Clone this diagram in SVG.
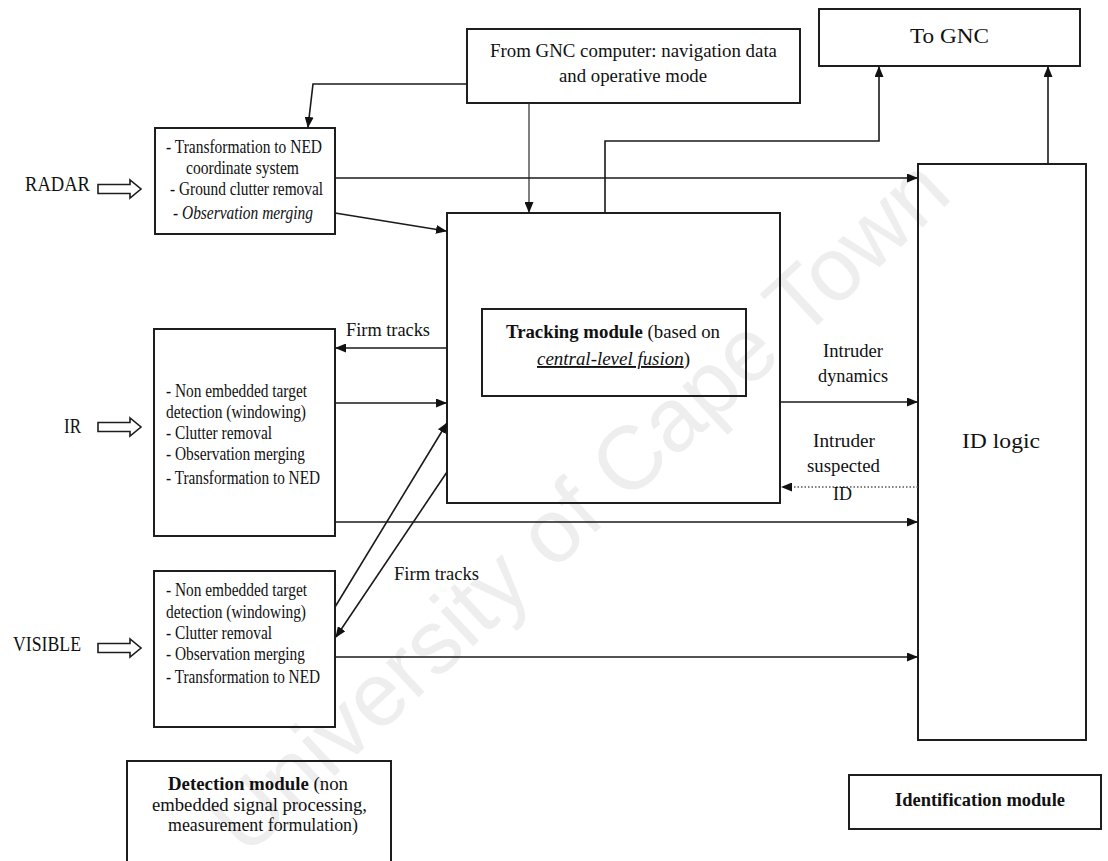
<svg xmlns="http://www.w3.org/2000/svg" width="1108" height="861" viewBox="0 0 1108 861">
<style>
.bg{fill:#fff}
.box{fill:none;stroke:#1e1e1e;stroke-width:2}
.ln{fill:none;stroke:#1a1a1a;stroke-width:1.6}
.thin{fill:none;stroke:#2a2a2a;stroke-width:1.2}
.dot{fill:none;stroke:#555;stroke-width:1.3;stroke-dasharray:1.5 2}
.hol{fill:#fff;stroke:#1e1e1e;stroke-width:1.6}
text{font-family:"Liberation Serif","Times New Roman",serif;fill:#111}
.t{font-size:19px}
.l{font-size:21px}
.s{font-size:19px}
.b{font-weight:bold}
.i{font-style:italic}
.wm{font-family:"Liberation Sans",Arial,sans-serif;font-size:90px;fill:#eeeeee}
</style>
<defs>
<marker id="ah" markerWidth="11" markerHeight="9" refX="10" refY="4.5" orient="auto" markerUnits="userSpaceOnUse">
<path d="M0,0 L11,4.5 L0,9 z" fill="#111"/>
</marker>
</defs>
<rect class="bg" x="0" y="0" width="1108" height="861"/>
<text class="wm" x="600" y="528" text-anchor="middle" transform="rotate(-43 600 528)">University of Cape Town</text>

<g id="gnc-in">
<rect class="box" x="467" y="29" width="333" height="74"/>
<text class="t" x="490" y="57" textLength="287" lengthAdjust="spacingAndGlyphs">From GNC computer: navigation data</text>
<text class="t" x="559" y="82" textLength="148" lengthAdjust="spacingAndGlyphs">and operative mode</text>
</g>
<g id="to-gnc">
<rect class="box" x="819" y="9" width="261" height="57"/>
<text x="910" y="43" font-size="22" textLength="79" lengthAdjust="spacingAndGlyphs">To GNC</text>
</g>
<g id="radar-src">
<text class="l" x="25" y="191" textLength="65" lengthAdjust="spacingAndGlyphs">RADAR</text>
<path class="hol" d="M98,184.5 H130 V180 L141,189 L130,198 V193.5 H98 Z"/>
</g>
<g id="radar">
<rect class="box" x="155" y="128" width="180" height="106"/>
<text class="t" x="166" y="153" textLength="156" lengthAdjust="spacingAndGlyphs">- Transformation to NED</text>
<text class="t" x="186" y="174" textLength="113" lengthAdjust="spacingAndGlyphs">coordinate system</text>
<text class="t" x="170" y="195" textLength="153" lengthAdjust="spacingAndGlyphs">- Ground clutter removal</text>
<text class="t" x="173" y="219" textLength="140" lengthAdjust="spacingAndGlyphs">- <tspan class="i">Observation merging</tspan></text>
</g>
<g id="ir-src">
<text class="l" x="64" y="433" textLength="17" lengthAdjust="spacingAndGlyphs">IR</text>
<path class="hol" d="M98,422.5 H130 V418 L141,427 L130,436 V431.5 H98 Z"/>
</g>
<g id="ir">
<rect class="box" x="154" y="329" width="181" height="207"/>
<text class="t" x="166" y="397" textLength="141" lengthAdjust="spacingAndGlyphs">- Non embedded target</text>
<text class="t" x="166" y="418" textLength="140" lengthAdjust="spacingAndGlyphs">detection (windowing)</text>
<text class="t" x="166" y="439" textLength="106" lengthAdjust="spacingAndGlyphs">- Clutter removal</text>
<text class="t" x="166" y="460" textLength="139" lengthAdjust="spacingAndGlyphs">- Observation merging</text>
<text class="t" x="166" y="484" textLength="154" lengthAdjust="spacingAndGlyphs">- Transformation to NED</text>
</g>
<g id="visible-src">
<text class="l" x="13" y="651" textLength="68" lengthAdjust="spacingAndGlyphs">VISIBLE</text>
<path class="hol" d="M98,643.5 H130 V639 L141,648 L130,657 V652.5 H98 Z"/>
</g>
<g id="visible">
<rect class="box" x="154" y="571" width="181" height="156"/>
<text class="t" x="166" y="596" textLength="141" lengthAdjust="spacingAndGlyphs">- Non embedded target</text>
<text class="t" x="166" y="618" textLength="140" lengthAdjust="spacingAndGlyphs">detection (windowing)</text>
<text class="t" x="166" y="639" textLength="106" lengthAdjust="spacingAndGlyphs">- Clutter removal</text>
<text class="t" x="166" y="660" textLength="139" lengthAdjust="spacingAndGlyphs">- Observation merging</text>
<text class="t" x="166" y="683" textLength="154" lengthAdjust="spacingAndGlyphs">- Transformation to NED</text>
</g>
<g id="tracking">
<rect class="box" x="447" y="213" width="333" height="290"/>
<rect class="box" x="482" y="309" width="264" height="87"/>
<text x="506" y="338" font-size="19" textLength="214" lengthAdjust="spacingAndGlyphs"><tspan class="b">Tracking module</tspan> (based on</text>
<text x="537" y="365" font-size="19" textLength="153" lengthAdjust="spacingAndGlyphs"><tspan class="i" text-decoration="underline">central-level fusion</tspan>)</text>
</g>
<g id="id-logic">
<rect class="box" x="918" y="164" width="168" height="576"/>
<text x="962" y="448" font-size="22" textLength="78" lengthAdjust="spacingAndGlyphs">ID logic</text>
</g>
<g id="detection-module">
<rect class="box" x="127" y="761" width="264" height="110"/>
<text x="168" y="790" font-size="19" textLength="180" lengthAdjust="spacingAndGlyphs"><tspan class="b">Detection module</tspan> (non</text>
<text x="152" y="811" font-size="19" textLength="215" lengthAdjust="spacingAndGlyphs">embedded signal processing,</text>
<text x="168" y="831" font-size="19" textLength="190" lengthAdjust="spacingAndGlyphs">measurement formulation)</text>
</g>
<g id="identification-module">
<rect class="box" x="849" y="775" width="252" height="54"/>
<text x="895" y="806" font-size="19" class="b" textLength="170" lengthAdjust="spacingAndGlyphs">Identification module</text>
</g>

<g id="connectors">
<polyline class="ln" points="467,84 313,84 308,127" marker-end="url(#ah)"/>
<line class="thin" x1="529" y1="103" x2="529" y2="212" marker-end="url(#ah)"/>
<polyline class="ln" points="605,213 605,141 879,141 879,67" marker-end="url(#ah)"/>
<line class="ln" x1="1048" y1="164" x2="1048" y2="67" marker-end="url(#ah)"/>
<line class="ln" x1="335" y1="178" x2="917" y2="178" marker-end="url(#ah)"/>
<line class="ln" x1="335" y1="213" x2="446" y2="231" marker-end="url(#ah)"/>
<line class="ln" x1="447" y1="348" x2="336" y2="348" marker-end="url(#ah)"/>
<line class="ln" x1="335" y1="403" x2="446" y2="403" marker-end="url(#ah)"/>
<line class="ln" x1="335" y1="522" x2="917" y2="522" marker-end="url(#ah)"/>
<line class="ln" x1="335" y1="607" x2="447" y2="423" marker-end="url(#ah)"/>
<line class="ln" x1="447" y1="472" x2="336" y2="637" marker-end="url(#ah)"/>
<line class="ln" x1="335" y1="657" x2="917" y2="657" marker-end="url(#ah)"/>
<line class="ln" x1="780" y1="402" x2="917" y2="402" marker-end="url(#ah)"/>
<line class="dot" x1="918" y1="487" x2="782" y2="487" marker-end="url(#ah)"/>
<text class="s" x="346" y="336" textLength="84" lengthAdjust="spacingAndGlyphs">Firm tracks</text>
<text class="s" x="394" y="580" textLength="85" lengthAdjust="spacingAndGlyphs">Firm tracks</text>
<text class="s" x="823" y="357" textLength="60" lengthAdjust="spacingAndGlyphs">Intruder</text>
<text class="s" x="818" y="382" textLength="70" lengthAdjust="spacingAndGlyphs">dynamics</text>
<text class="s" x="813" y="447" textLength="62" lengthAdjust="spacingAndGlyphs">Intruder</text>
<text class="s" x="807" y="472" textLength="73" lengthAdjust="spacingAndGlyphs">suspected</text>
<text class="s" x="833" y="500" textLength="19" lengthAdjust="spacingAndGlyphs">ID</text>
</g>
</svg>
